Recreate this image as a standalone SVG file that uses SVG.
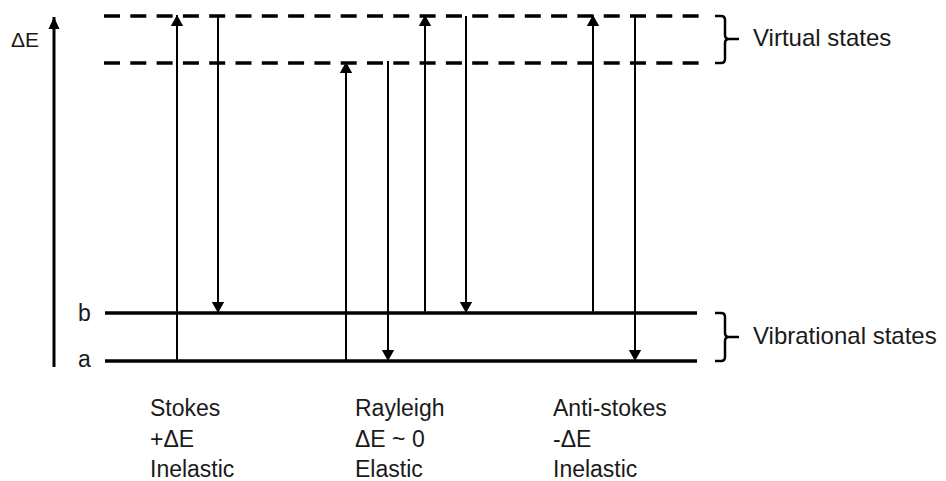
<svg xmlns="http://www.w3.org/2000/svg" width="946" height="481" viewBox="0 0 946 481">
  <style>
    text { font-family: "Liberation Sans", Arial, sans-serif; fill: #1a1a1a; }
    .lbl { font-size: 23px; }
    .side { font-size: 24px; }
    .level { stroke: #000; stroke-width: 3.4; fill: none; }
    .virt { stroke: #000; stroke-width: 3.6; fill: none; stroke-dasharray: 16 10.3; }
    .tr { stroke: #000; stroke-width: 2; fill: none; }
    .brace { stroke: #000; stroke-width: 2.5; fill: none; }
  </style>
  <defs>
    <marker id="ah" markerUnits="userSpaceOnUse" markerWidth="14" markerHeight="14" viewBox="0 0 14 14" refX="11" refY="7" orient="auto">
      <path d="M0,0.8 L11,7 L0,13.2 Z" fill="#000"/>
    </marker>
    <marker id="ahAxis" markerUnits="userSpaceOnUse" markerWidth="14" markerHeight="14" viewBox="0 0 14 14" refX="12" refY="7" orient="auto">
      <path d="M0,1.5 L12,7 L0,12.5 Z" fill="#000"/>
    </marker>
  </defs>

  <g id="axis">
    <line x1="54" y1="367" x2="54" y2="17" stroke="#000" stroke-width="3" marker-end="url(#ahAxis)"/>
    <text x="11" y="47" style="font-size:21px">ΔE</text>
  </g>

  <g id="virtual-states">
    <line class="virt" x1="104" y1="16" x2="699" y2="16"/>
    <line class="virt" x1="104" y1="63" x2="699" y2="63"/>
    <path class="brace" d="M715,16 H721 Q725,16 725,20 V35 Q725,39 729,39 H739 M729,39 Q725,39 725,43 V59 Q725,63 721,63 H715"/>
    <text class="side" x="753" y="46">Virtual states</text>
  </g>

  <g id="vibrational-states">
    <line class="level" x1="105" y1="313" x2="697" y2="313"/>
    <line class="level" x1="105" y1="361" x2="697" y2="361"/>
    <text class="lbl" x="78" y="321">b</text>
    <text class="lbl" x="78" y="367">a</text>
    <path class="brace" d="M715,313 H721 Q725,313 725,317 V333 Q725,337 729,337 H739 M729,337 Q725,337 725,341 V357 Q725,361 721,361 H715"/>
    <text class="side" x="753" y="344">Vibrational states</text>
  </g>

  <g id="connectors">
    <line class="tr" x1="177" y1="361" x2="177" y2="15" marker-end="url(#ah)"/>
    <line class="tr" x1="218" y1="16" x2="218" y2="313" marker-end="url(#ah)"/>
    <line class="tr" x1="346" y1="361" x2="346" y2="62" marker-end="url(#ah)"/>
    <line class="tr" x1="388" y1="61" x2="388" y2="361" marker-end="url(#ah)"/>
    <line class="tr" x1="425" y1="313" x2="425" y2="15" marker-end="url(#ah)"/>
    <line class="tr" x1="466" y1="16" x2="466" y2="313" marker-end="url(#ah)"/>
    <line class="tr" x1="593" y1="313" x2="593" y2="15" marker-end="url(#ah)"/>
    <line class="tr" x1="635" y1="16" x2="635" y2="361" marker-end="url(#ah)"/>
  </g>

  <g id="stokes">
    <text class="lbl" x="150" y="416">Stokes</text>
    <text class="lbl" x="150" y="447">+ΔE</text>
    <text class="lbl" x="150" y="477">Inelastic</text>
  </g>
  <g id="rayleigh">
    <text class="lbl" x="355" y="416">Rayleigh</text>
    <text class="lbl" x="355" y="447">ΔE ~ 0</text>
    <text class="lbl" x="355" y="477">Elastic</text>
  </g>
  <g id="anti-stokes">
    <text class="lbl" x="553" y="416">Anti-stokes</text>
    <text class="lbl" x="553" y="447">-ΔE</text>
    <text class="lbl" x="553" y="477">Inelastic</text>
  </g>
</svg>
